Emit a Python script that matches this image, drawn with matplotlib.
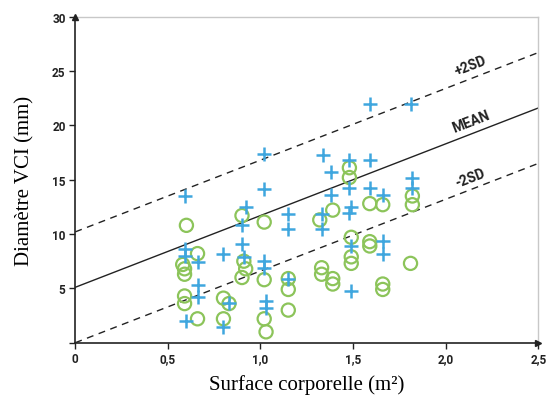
import numpy as np
import matplotlib
matplotlib.use("Agg")
import matplotlib.pyplot as plt

# blue "+" series
plus_x = [0.59, 1.02, 0.92, 0.90, 0.59, 0.59, 0.66, 0.80, 0.90, 0.91, 1.02, 1.02,
          0.66, 0.66, 0.83, 1.03, 1.03, 0.60, 0.80, 1.02,
          1.59, 1.81, 1.34, 1.48, 1.59, 1.38, 1.82, 1.82, 1.38, 1.48, 1.59, 1.66, 1.49,
          1.15, 1.15, 1.33, 1.33, 1.48, 1.49, 1.66, 1.66, 1.15, 1.49]
plus_y = [13.5, 14.1, 12.5, 10.8, 8.6, 8.0, 7.4, 8.2, 9.1, 7.9, 7.5, 6.9,
          5.3, 4.2, 3.7, 3.8, 3.2, 2.0, 1.4, 17.4,
          22.0, 22.0, 17.3, 16.8, 16.8, 15.7, 15.2, 14.2, 13.6, 14.2, 14.2, 13.6, 12.5,
          11.8, 10.5, 11.8, 10.5, 11.9, 8.9, 9.4, 8.2, 5.9, 4.8]

# green "o" series
circ_x = [0.60, 0.66, 0.58, 0.59, 0.59, 0.59, 0.59, 0.66, 0.90, 0.91, 0.92, 0.90,
          1.02, 1.02, 0.80, 0.83, 0.80, 1.02, 1.03,
          1.48, 1.48, 1.82, 1.59, 1.66, 1.39, 1.32, 1.82,
          1.49, 1.59, 1.59, 1.49, 1.49, 1.81, 1.15, 1.15, 1.15,
          1.33, 1.33, 1.39, 1.39, 1.66, 1.66]
circ_y = [10.8, 8.2, 7.2, 6.8, 6.3, 4.3, 3.6, 2.2, 11.7, 7.5, 6.8, 6.0,
          11.1, 5.8, 4.1, 3.6, 2.2, 2.2, 1.0,
          16.1, 15.2, 13.5, 12.8, 12.7, 12.2, 11.3, 12.7,
          9.7, 9.3, 8.9, 7.9, 7.3, 7.3, 5.9, 4.9, 3.0,
          6.9, 6.3, 5.9, 5.4, 5.4, 4.9]

mean_intercept = 5.1
mean_slope = 6.6
two_sd = 5.1

x_ticks = [0, 0.5, 1.0, 1.5, 2.0, 2.5]
x_ticklabels = ['0', '0,5', '1,0', '1,5', '2,0', '2,5']
y_ticks = [0, 5, 10, 15, 20, 25, 30]
y_ticklabels = ['', '5', '10', '15', '20', '25', '30']

blue = '#3fa6de'
green = '#8cc45a'
dark = '#222222'

fig = plt.figure(figsize=(5.52, 4.02), dpi=100)
ax = fig.add_axes([0.1364, 0.145, 0.8388, 0.811])

xs = np.array([0, 2.5])
ax.plot(xs, mean_intercept + mean_slope * xs, color=dark, lw=1.0)
ax.plot(xs, mean_intercept + two_sd + mean_slope * xs, color=dark, lw=1.0, dashes=(5, 4))
ax.plot(xs, mean_intercept - two_sd + mean_slope * xs, color=dark, lw=1.0, dashes=(5, 4))

ax.scatter(circ_x, circ_y, s=90, facecolors='none', edgecolors=green, linewidths=1.6, zorder=3)
ax.scatter(plus_x, plus_y, s=95, marker='+', color=blue, linewidths=1.8, zorder=4)

rot = 21.2
lab_font = dict(fontsize=10, fontweight='bold', color=dark, family='Roboto',
                rotation=rot, ha='center', va='center', rotation_mode='anchor')
ax.text(2.135, 25.5, '+2SD', **lab_font)
ax.text(2.135, 20.4, 'MEAN', **lab_font)
ax.text(2.135, 15.15, '-2SD', **lab_font)

ax.set_xlim(0, 2.5)
ax.set_ylim(0, 30)
ax.set_xticks(x_ticks)
ax.set_xticklabels(x_ticklabels)
ax.set_yticks(y_ticks)
ax.set_yticklabels(y_ticklabels)
for lab in ax.get_xticklabels() + ax.get_yticklabels():
    lab.set_fontfamily('Roboto')
    lab.set_fontweight('bold')
    lab.set_fontsize(8.5)
    lab.set_color(dark)
ax.tick_params(direction='out', length=4, width=1, color=dark, pad=3)

for side in ['left', 'bottom']:
    ax.spines[side].set_color(dark)
    ax.spines[side].set_linewidth(1.2)
for side in ['top', 'right']:
    ax.spines[side].set_color('#c8c8c8')
    ax.spines[side].set_linewidth(1.0)

# axis arrows
ax.plot(0, 1, marker='^', ms=4, color=dark, transform=ax.transAxes, clip_on=False, zorder=5)
ax.plot(1, 0, marker='>', ms=4, color=dark, transform=ax.transAxes, clip_on=False, zorder=5)

ax.set_xlabel('Surface corporelle (m²)', family='Liberation Serif', fontsize=15, labelpad=6)
ax.set_ylabel('Diamètre VCI (mm)', family='Liberation Serif', fontsize=15, labelpad=13)

fig.savefig('out.png', dpi=100)
